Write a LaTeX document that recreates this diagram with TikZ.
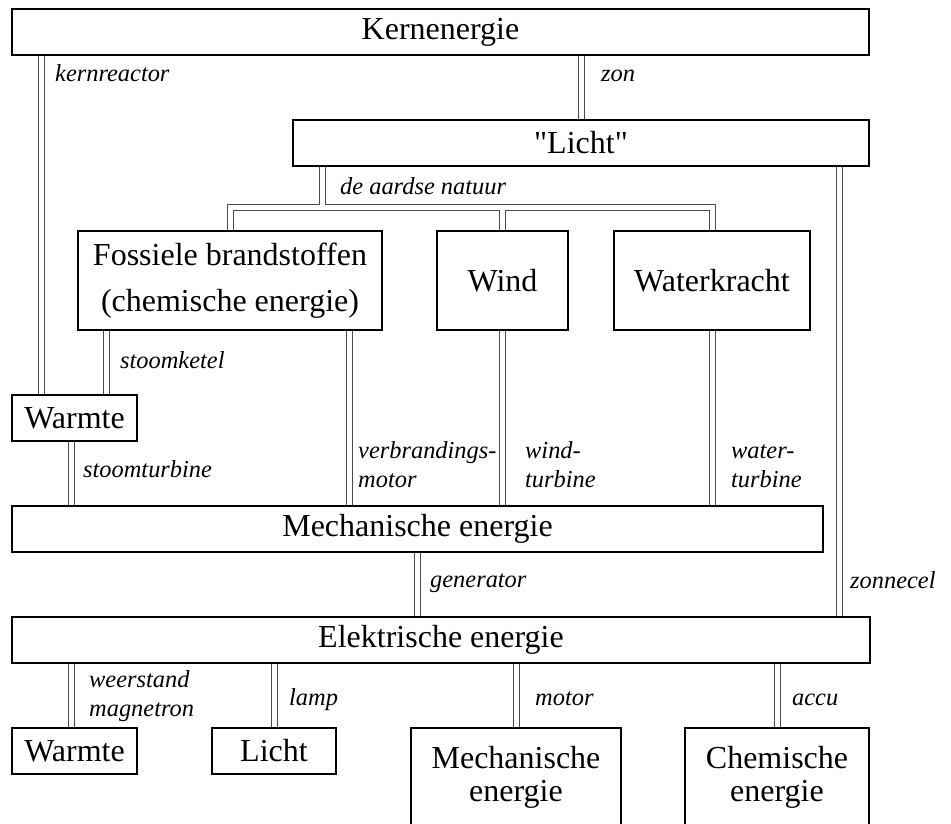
\documentclass[tikz,border=0pt]{standalone}
\usepackage{fontspec}
\setmainfont{Liberation Serif}
\usetikzlibrary{positioning,calc}

\begin{document}
\begin{tikzpicture}[
x=1pt, y=-1pt,
box/.style={
draw,
line width=1.5pt,
align=center,
inner sep=0pt,
minimum height=46pt,
font=\fontsize{32}{38}\selectfont
},
lbl/.style={
anchor=base west,
inner sep=0pt,
align=left,
font=\fontsize{24.4}{29}\selectfont\itshape
},
dbl/.style={
draw=black!70,
line width=1pt,
double=white,
double distance=5pt
}
]

\useasboundingbox (0,0) rectangle (951,823);
\clip (0,0) rectangle (951,823);


% Energy sources

\node (kern) [box, minimum width=857pt] at (440.5,32) {Kernenergie};

\node (licht) [box, minimum width=576pt] at (581,143) {\textquotedbl Licht\textquotedbl};

\node (fossiel) [box, minimum width=304pt, minimum height=99pt,
font=\fontsize{32}{46}\selectfont] at (230,280.5)
{Fossiele brandstoffen\\
(chemische energie)};

\node (wind) [box, minimum width=131pt, minimum height=99pt] at (502.5,280.5) {Wind};

\node (water) [box, minimum width=196pt, minimum height=99pt] at (712,280.5) {Waterkracht};

\node (warmteA) [box, minimum width=125pt] at (74.5,418) {Warmte};


% Mechanical and electrical

\node (mech) [box, minimum width=811pt] at (417.5,529) {Mechanische energie};

\node (elek) [box, minimum width=858pt] at (441,640) {Elektrische energie};


% Uses

\node (warmteB) [box, minimum width=125pt] at (74.5,751) {Warmte};

\node (lichtB) [box, minimum width=124pt] at (274,751) {Licht};

\node (mechB) [box, minimum width=210pt, minimum height=99pt,
font=\fontsize{32}{33}\selectfont] at (516,777.5)
{Mechanische\\
energie};

\node (chemB) [box, minimum width=184pt, minimum height=99pt,
font=\fontsize{32}{33}\selectfont] at (777,777.5)
{Chemische\\
energie};


% Connectors

\coordinate (kr) at ([xshift=30pt]warmteA.north west);
\coordinate (nat) at ([xshift=30pt]licht.south west);
\coordinate (zc) at ([xshift=-30pt]licht.south east);
\coordinate (sk) at ([xshift=29pt]fossiel.south west);
\coordinate (st) at ([xshift=60pt]warmteA.south west);
\coordinate (vm) at ([xshift=-33pt]fossiel.south east);
\coordinate (ws) at ([xshift=60pt]warmteB.north west);
\coordinate (bus) at ([yshift=22.5pt]wind.north);

\draw[dbl] (kr) -- (kr |- kern.south);
\draw[dbl] (licht.north) -- (licht.north |- kern.south);

\draw[dbl] (nat) -- (nat |- bus)
(fossiel.north) |- (water.north |- bus) -- (water.north)
(wind.north) -- (bus);

\draw[dbl] (zc) -- (zc |- elek.north);

\draw[dbl] (sk) -- (sk |- warmteA.north);
\draw[dbl] (st) -- (st |- mech.north);
\draw[dbl] (vm) -- (vm |- mech.north);
\draw[dbl] (wind.south) -- (wind.south |- mech.north);
\draw[dbl] (water.south) -- (water.south |- mech.north);

\draw[dbl] (mech.south) -- (mech.south |- elek.north);

\draw[dbl] (ws) -- (ws |- elek.south);
\draw[dbl] (lichtB.north) -- (lichtB.north |- elek.south);
\draw[dbl] (mechB.north) -- (mechB.north |- elek.south);
\draw[dbl] (chemB.north) -- (chemB.north |- elek.south);


% Labels

\node (lkern) [lbl] at (55,81) {kernreactor};
\node (lzon) [lbl] at (601,81) {zon};
\node (lnat) [lbl] at (340,194) {de aardse natuur};
\node (lketel) [lbl] at (120,368) {stoomketel};
\node (lstoom) [lbl] at (83,477) {stoomturbine};
\node (lverbr) [lbl] at (358,487) {verbrandings-\\motor};
\node (lwind) [lbl] at (525,487) {wind-\\turbine};
\node (lwater) [lbl] at (731,487) {water-\\turbine};
\node (lgen) [lbl] at (430,587) {generator};
\node (lzcel) [lbl] at (850,588) {zonnecel};
\node (lweer) [lbl] at (89,716) {weerstand\\magnetron};
\node (llamp) [lbl] at (289,705) {lamp};
\node (lmotor) [lbl] at (535,705) {motor};
\node (laccu) [lbl] at (792,705) {accu};

\end{tikzpicture}
\end{document}
